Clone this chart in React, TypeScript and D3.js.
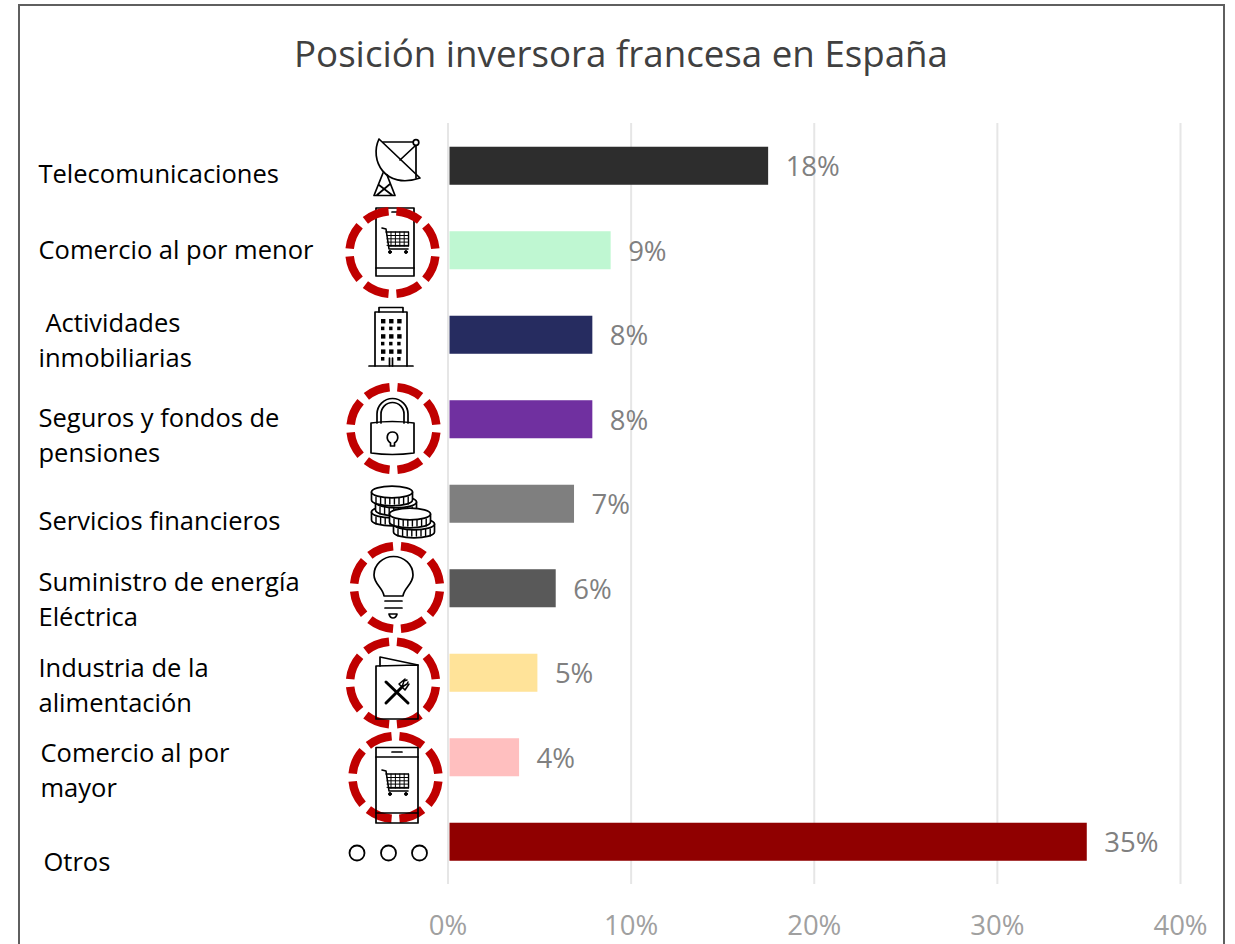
import React from "react";
import * as d3 from "d3";

const title = "Posición inversora francesa en España";
const categories = ["Telecomunicaciones","Comercio al por menor","Actividades inmobiliarias","Seguros y fondos de pensiones","Servicios financieros","Suministro de energía Eléctrica","Industria de la alimentación","Comercio al por mayor","Otros"];
const values = [17.4, 8.8, 7.8, 7.8, 6.8, 5.8, 4.8, 3.8, 34.8];
const displayLabels = ["18%","9%","8%","8%","7%","6%","5%","4%","35%"];
const colors = ["#2d2d2d","#bff7d2","#262c60","#7030a0","#7f7f7f","#595959","#ffe399","#ffbfbf","#900000"];
const ticks = [0,10,20,30,40];
const labelLines: string[][] = [["Telecomunicaciones"],["Comercio al por menor"],[" Actividades","inmobiliarias"],["Seguros y fondos de","pensiones"],["Servicios financieros"],["Suministro de energía","Eléctrica"],["Industria de la","alimentación"],["Comercio al por","mayor"],["Otros"]];
const labelX = [38.5,38.5,38.5,38.5,38.5,38.5,38.5,40.5,43.5];
const labelY = [183,258.5,331.5,426.5,530,590.5,676.5,761.5,870.5];
const FONT = "'Open Sans', sans-serif";

const x = d3.scaleLinear().domain([0,40]).range([448,1180.5]);
const y = d3.scaleBand<string>().domain(categories).range([123.5,884]).paddingInner(0.55).paddingOuter(0.275);

const Ring = ({cx,cy}:{cx:number,cy:number}) => (
  <ellipse cx={cx} cy={cy} rx={43} ry={41.5} fill="none" stroke="#c00000" strokeWidth={8.5} pathLength={800} strokeDasharray="76 24" strokeDashoffset={-12} />
);

const s = {fill:"none",stroke:"#000",strokeWidth:1.7,strokeLinejoin:"round" as const,strokeLinecap:"round" as const};

const Cart = ({tx,ty}:{tx:number,ty:number}) => {
  const vs = [0,1,2,3,4]; const hs=[0,1,2,3];
  return <g transform={`translate(${tx},${ty})`} {...s} strokeWidth={1}>
    <path d="M0,0 L4,1 L7,21 H26" strokeWidth={1.6}/>
    <path d="M4,4 H26.500 V18 H6.500" strokeWidth={1.3}/>
    {vs.map(i=><path key={i} d={`M${9+i*4.400},4 V18`}/>)}
    {hs.map(i=><path key={i} d={`M5,${7.500+i*3.300} H26`}/>)}
    <circle cx={8} cy={24} r={1.500} fill="#000"/><circle cx={24} cy={24} r={1.500} fill="#000"/>
  </g>;
};

const Dish = () => <g {...s}>
  <path d="M379,139 C369,160 385,190 420,178 Z"/>
  <path d="M383,142 H416 V178"/>
  <path d="M400,160 L415,146"/>
  <circle cx={416} cy={142.500} r={2.800} fill="#fff"/>
  <path d="M383,173 L374,195.500 H395 L387,175 M379,185 L392,195 M390,184 L377,195"/>
</g>;

const PhoneMid = () => <g {...s}>
  <rect x={376} y={208} width={38} height={68}/>
  <path d="M376,268 H414 M392,212 H402"/>
  <Cart tx={382} ty={228}/>
</g>;

const Building = () => {
  const rows=[0,1,2,3,4,5];
  return <g {...s}>
    <path d="M379,312 V307.500 H403 V312"/>
    <path d="M375,366 V312 H407 V366"/>
    <path d="M369,366 H413"/>
    <path d="M389.500,366 V358 M392.500,366 V358"/>
    {rows.map(r=>[0,1,2].map(c=> (r===5&&c===1)?null:<rect key={`${r}${c}`} x={381+c*8.100} y={319+r*7.600} width={r%2?3.400:4.400} height={r%2?3.600:4.400} fill="#000" stroke="none"/>))}
  </g>;
};

const Lock = () => <g {...s}>
  <path d="M371,423 Q392,420 414,423 V453 Q392,456 371,453 Z"/>
  <path d="M377,423 V414 A15.500,15.500 0 0 1 408,414 V423"/>
  <path d="M381,423 V414 A11.500,11.500 0 0 1 404,414 V423"/>
  <path d="M390.500,446 V443 C385,439 387,432 392.500,432 C398,432 400,439 394.500,443 V446 Z"/>
</g>;

const Coin = ({cx,cy}:{cx:number,cy:number}) => {
  const rx=20.500, ry=5.800, h=8;
  return <g>
    <path d={`M${cx-rx},${cy} V${cy+h} A${rx},${ry} 0 0 0 ${cx+rx},${cy+h} V${cy} Z`} {...s} fill="#fff"/>
    {d3.range(-16,17,4.600).map(dx=><path key={dx} d={`M${cx+dx},${cy+5} V${cy+h+4}`} {...s} strokeWidth={1.400}/>)}
    <ellipse cx={cx} cy={cy} rx={rx} ry={ry} {...s} fill="#fff"/>
  </g>;
};

const Coins = () => <g>
  <Coin cx={392} cy={512}/>
  <Coin cx={396} cy={502}/>
  <Coin cx={392} cy={492}/>
  <Coin cx={414} cy={524}/>
  <Coin cx={410} cy={514}/>
</g>;

const Bulb = () => <g {...s}>
  <path d="M384,596 C383,588 374,584 374,575 A19.500,18.500 0 0 1 413,575 C413,584 404,588 403,596 Z"/>
  <path d="M385,601 H402 M385,608 H402 M389,614 H397 Q396,618 393,618 Q390,618 389,614 Z"/>
</g>;

const Menu = () => <g {...s}>
  <path d="M376,666 V719 H418 V665 L376,666"/>
  <path d="M380,666 V657 L418,665"/>
  <g strokeWidth={3}>
    <path d="M386,682 L408,703"/>
    <path d="M386,703 L402,687"/>
  </g>
  <path d="M402,687 L399,684 L405,679 M402,687 L404,681 L407,680 M402,687 L407,684 L408,682 M402,687 L405,690 L409,684" strokeWidth={1.500}/>
</g>;

const PhoneLow = () => <g {...s}>
  <rect x={376} y={747.500} width={42} height={75.500}/>
  <path d="M376,757 H418 M376,813 H418 M392,752 H402"/>
  <Cart tx={382} ty={770}/>
</g>;

const Dots = () => <g {...s} strokeWidth={1.800}>
  {[357,388.500,419.500].map(cx=><circle key={cx} cx={cx} cy={853} r={7.500}/>)}
</g>;

export default function App(){
  return <svg width={1235} height={944} style={{position:"absolute",left:0,top:0,background:"#fff"}} fontFamily={FONT}>
    <rect x={19} y={5} width={1205} height={960} fill="#fff" stroke="#5f5f5f" strokeWidth={2}/>
    <text x={621} y={67} textAnchor="middle" fontSize={36.700} fill="#404040">{title}</text>
    {ticks.map(t=><g key={t}>
      <line x1={x(t)} x2={x(t)} y1={123} y2={884} stroke="#e6e6e6" strokeWidth={2}/>
      <text x={x(t)} y={935} textAnchor="middle" fontSize={27.500} fill="#a0a0a0">{t}%</text>
    </g>)}
    {categories.map((c,i)=><g key={c}>
      <rect x={449.500} y={y(c)!} width={x(values[i])-x(0)} height={y.bandwidth()} fill={colors[i]}/>
      <text x={x(values[i])+19} y={y(c)!+y.bandwidth()/2+10.500} fontSize={27.500} fill="#808080">{displayLabels[i]}</text>
      <text fontSize={25.500} fill="#000">
        {labelLines[i].map((l,j)=><tspan key={j} x={labelX[i]+(l.startsWith(" ")?7:0)} y={labelY[i]+j*35.500}>{l.trim()}</tspan>)}
      </text>
    </g>)}
    <Dish/>
    <PhoneMid/><Ring cx={392.500} cy={252.500}/>
    <Building/>
    <Lock/><Ring cx={393.500} cy={428.500}/>
    <Coins/>
    <Bulb/><Ring cx={397} cy={587.500}/>
    <Ring cx={393} cy={683}/><Menu/>
    <Ring cx={395.500} cy={777.500}/><PhoneLow/>
    <Dots/>
  </svg>;
}
